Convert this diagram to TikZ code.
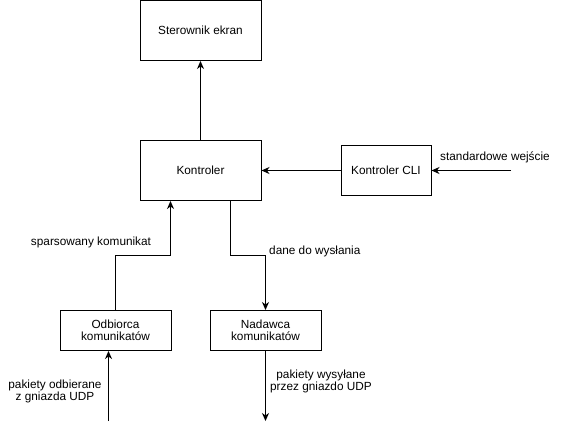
\documentclass[tikz,border=0pt]{standalone}
\usepackage{fontspec}
\setmainfont{Liberation Sans}
\usetikzlibrary{arrows.meta}
\begin{document}
\begin{tikzpicture}[x=1pt,y=-1pt,
  font=\fontsize{11.8}{14}\selectfont,
  box/.style={draw,line width=1pt,inner sep=0pt,align=center},
  conn/.style={draw,line width=1pt,-{Stealth[length=8pt,width=7pt,inset=2.5pt]}},
  lbl/.style={inner sep=0pt,align=center}]
\useasboundingbox[fill=white] (0,0) rectangle (561,429);
\node[box,minimum width=121pt,minimum height=60pt] (ster) at (200.5,30.5) {Sterownik ekran};
\node[box,minimum width=121pt,minimum height=60pt] (kon) at (200.5,170.5) {Kontroler};
\node[box,minimum width=90pt,minimum height=50pt] (cli) at (386,170.5) {Kontroler CLI};
\node[box,minimum width=111pt,minimum height=40pt] (odb) at (115.5,330.5) {Odbiorca\\[-2pt]komunikatów};
\node[box,minimum width=111pt,minimum height=40pt] (nad) at (265.5,330.5) {Nadawca\\[-2pt]komunikatów};
\coordinate (stdin) at (511,170.5);
\coordinate (udpin) at (108.5,421);
\coordinate (udpout) at (265.5,421);
\coordinate (mida) at (115.5,255.5);
\coordinate (midb) at (230.5,255.5);
\draw[conn] (kon.north) -- (ster.south);
\draw[conn] (stdin) -- (cli.east);
\draw[conn] (cli.west) -- (kon.east);
\draw[conn] (odb.north) -- (mida) -| ([xshift=-30pt]kon.south);
\draw[conn] ([xshift=30pt]kon.south) -- (midb) -| (nad.north);
\draw[conn] (udpin) -- (udpin |- odb.south);
\draw[conn] (nad.south) -- (udpout);
\node[lbl] (l1) at (91,242) {sparsowany komunikat};
\node[lbl,anchor=west] (l2) at (269,251) {dane do wysłania};
\node[lbl,anchor=west] (l3) at (440,157) {standardowe wejście};
\node[lbl] (l4) at (55,391) {pakiety odbierane\\[-2pt]z gniazda UDP};
\node[lbl] (l5) at (321,381) {pakiety wysyłane\\[-2pt]przez gniazdo UDP};
\end{tikzpicture}
\end{document}
